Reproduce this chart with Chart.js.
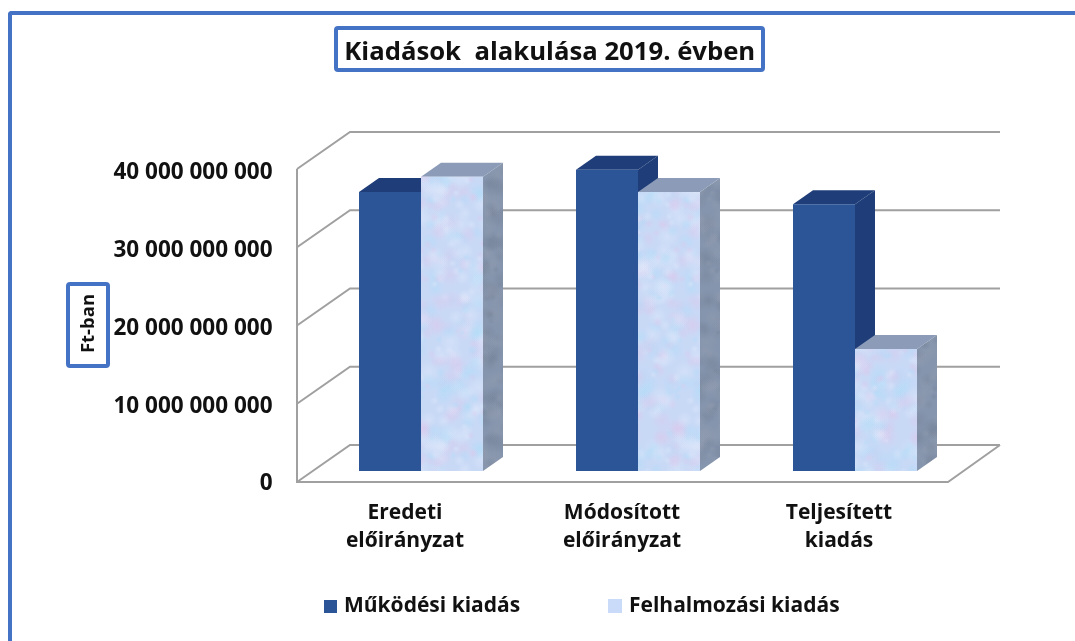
<!DOCTYPE html>
<html lang="hu">
<head>
<meta charset="utf-8">
<title>Kiadások alakulása 2019. évben</title>
<script src="https://cdn.jsdelivr.net/npm/chart.js"></script>
<style>
    html, body { margin: 0; padding: 0; width: 1075px; height: 641px; overflow: hidden; background: #fff; }
    #frame { position: absolute; left: 8px; top: 11px; width: 1100px; height: 700px; box-sizing: border-box;
             border-left: 4.5px solid #4472C4; border-top: 4.5px solid #4472C4; border-top-left-radius: 4px; }
    #monthlyChart { position: absolute; left: 0; top: 0; }
</style>
</head>
<body>
<div id="frame"></div>
<canvas id="monthlyChart" width="1075" height="641"></canvas>
<script>
    // -----------------------------
    // Data
    // -----------------------------
    const categories = [["Eredeti", "előirányzat"], ["Módosított", "előirányzat"], ["Teljesített", "kiadás"]];
    const operating = [35650000000, 38500000000, 34100000000];
    const accumulation = [37600000000, 35650000000, 15600000000];
    const seriesNames = ["Működési kiadás", "Felhalmozási kiadás"];
    const tickValues = [0, 10000000000, 20000000000, 30000000000, 40000000000];
    const tickLabels = ["0", "10 000 000 000", "20 000 000 000", "30 000 000 000", "40 000 000 000"];
    const chartTitle = "Kiadások  alakulása 2019. évben";
    const axisTitle = "Ft-ban";

    // -----------------------------
    // Look
    // -----------------------------
    const FONT = "'Open Sans', sans-serif";
    const FRAME = "#4472C4";
    const GRID = "#A0A0A0";
    const BLUE = "#2B5597";
    const BLUE_DARK = "#1F3D78";
    const DEPTH_X = 20;      // bar depth
    const DEPTH_Y = 14;
    const WALL_X = 53;       // depth of the floor
    const WALL_OVER = 15.5;  // front corner sits this far left of the plot

    // fixed scatter for the texture tile, looks random but is the same each run
    function scatter(n) {
        const v = Math.sin(n * 12.9898) * 43758.5453;
        return v - Math.floor(v);
    }

    // speckled bluish/lilac tile, like the picture fill of the second series
    function makeTexture(dark) {
        const size = 256;
        const c = document.createElement("canvas");
        c.width = c.height = size;
        const g = c.getContext("2d");
        g.fillStyle = dark ? "#8595AD" : "#C8D9F6";
        g.fillRect(0, 0, size, size);
        for (let i = 0; i < 900; i++) {
            const x = scatter(i + 1) * size;
            const y = scatter(i + 1000) * size;
            const r = 3 + scatter(i + 2000) * 9;
            const pick = scatter(i + 3000);
            const light = pick < 0.33 ? "220,200,236" : pick < 0.66 ? "176,220,248" : "224,232,250";
            const col = dark ? (pick < 0.5 ? "118,132,154" : "146,156,176") : light;
            for (const dx of [0, -size, size]) {
                for (const dy of [0, -size, size]) {
                    const rg = g.createRadialGradient(x + dx, y + dy, 0, x + dx, y + dy, r);
                    rg.addColorStop(0, "rgba(" + col + ",0.45)");
                    rg.addColorStop(1, "rgba(" + col + ",0)");
                    g.fillStyle = rg;
                    g.fillRect(x + dx - r, y + dy - r, r * 2, r * 2);
                }
            }
        }
        return g.createPattern(c, "repeat");
    }

    const ctx = document.getElementById("monthlyChart").getContext("2d");
    const frontFill = makeTexture(false);
    const sideFill = makeTexture(true);

    function poly(c, pts, fill) {
        c.fillStyle = fill;
        c.beginPath();
        pts.forEach((p, i) => i ? c.lineTo(p[0], p[1]) : c.moveTo(p[0], p[1]));
        c.closePath();
        c.fill();
    }

    function boxedFrame(c, x, y, w, h) {
        c.strokeStyle = FRAME;
        c.lineWidth = 4;
        c.beginPath();
        c.roundRect(x, y, w, h, 2);
        c.stroke();
    }

    // -----------------------------
    // 3D look: walls, floor, bar sides, boxed texts, legend
    // -----------------------------
    const walls = {
        id: "walls",
        afterLayout(chart) {
            // title is not centred on the plot in the reference
            chart.titleBlock.left += 68;
            chart.titleBlock.right += 68;
        },
        beforeDatasetsDraw(chart) {
            const c = chart.ctx;
            const area = chart.chartArea;
            const yF = chart.scales.yFront;
            const yB = chart.scales.yBack;
            const left = area.left - WALL_OVER;
            const back = left + WALL_X;
            const right = area.right + 36.5;
            c.save();
            c.strokeStyle = GRID;
            c.lineWidth = 2;
            tickValues.forEach((v) => {
                c.beginPath();
                c.moveTo(left, yF.getPixelForValue(v));
                c.lineTo(back, yB.getPixelForValue(v));
                c.lineTo(right, yB.getPixelForValue(v));
                c.stroke();
            });
            const y0 = yF.getPixelForValue(0);
            c.beginPath();
            c.moveTo(left, yF.getPixelForValue(tickValues[tickValues.length - 1]));
            c.lineTo(left, y0);
            c.lineTo(right - WALL_X + 1, y0);
            c.lineTo(right, yB.getPixelForValue(0));
            c.stroke();

            // sides and tops of the columns, the fronts come from Chart.js
            chart.data.datasets.forEach((ds, i) => {
                const top = i === 0 ? BLUE_DARK : "#8C9CB8";
                const side = i === 0 ? BLUE_DARK : sideFill;
                chart.getDatasetMeta(i).data.forEach((bar) => {
                    const p = bar.getProps(["x", "y", "base", "width"], true);
                    const l = p.x - p.width / 2;
                    const r = p.x + p.width / 2;
                    poly(c, [[l, p.y], [l + DEPTH_X, p.y - DEPTH_Y], [r + DEPTH_X, p.y - DEPTH_Y], [r, p.y]], top);
                    poly(c, [[r, p.y], [r + DEPTH_X, p.y - DEPTH_Y], [r + DEPTH_X, p.base - DEPTH_Y], [r, p.base]], side);
                });
            });
            c.restore();
        },
        afterDraw(chart) {
            const c = chart.ctx;
            c.save();
            // box round the title
            boxedFrame(c, 336, 28, 427, 42);

            // axis title
            boxedFrame(c, 68, 284, 40, 82);
            c.translate(88.5, 323.5);
            c.rotate(-Math.PI / 2);
            c.fillStyle = "#111";
            c.font = "bold 18.5px " + FONT;
            c.textAlign = "center";
            c.textBaseline = "middle";
            c.fillText(axisTitle, 0, 0);
            c.restore();

            // legend
            c.save();
            c.font = "bold 21px " + FONT;
            c.textBaseline = "middle";
            c.fillStyle = BLUE;
            c.fillRect(324, 600, 13, 13);
            c.fillStyle = "#C9DBF9";
            c.fillRect(608, 599, 14, 14);
            c.fillStyle = "#111";
            c.fillText(seriesNames[0], 344, 606);
            c.fillText(seriesNames[1], 629, 606);
            c.restore();
        }
    };

    // -----------------------------
    // Chart
    // -----------------------------
    new Chart(ctx, {
        type: "bar",
        data: {
            labels: categories,
            datasets: [
                { label: seriesNames[0], data: operating, backgroundColor: BLUE, yAxisID: "yBar" },
                { label: seriesNames[1], data: accumulation, backgroundColor: frontFill, yAxisID: "yBar" }
            ]
        },
        options: {
            responsive: false,
            animation: false,
            layout: { padding: { left: 0, right: 111.5, top: 0, bottom: 84 } },
            datasets: { bar: { categoryPercentage: 0.5714, barPercentage: 1 } },
            plugins: {
                legend: { display: false },
                tooltip: { enabled: false },
                title: {
                    display: true,
                    text: chartTitle,
                    color: "#111",
                    font: { family: FONT, size: 25.7, weight: "bold" },
                    padding: { top: 37, bottom: 64.2 }
                }
            },
            scales: {
                x: {
                    grid: { display: false },
                    border: { display: false },
                    ticks: {
                        color: "#111",
                        font: { family: FONT, size: 21, weight: "bold", lineHeight: 1.33 },
                        padding: 9,
                        labelOffset: -16,
                        maxRotation: 0,
                        autoSkip: false
                    },
                    afterFit(scale) { scale.height = 75; }
                },
                // carries the tick labels, they sit a little lower than the gridlines
                y: {
                    position: "left",
                    min: 257000000,
                    max: 45270000000,
                    grid: { display: false },
                    border: { display: false },
                    afterBuildTicks(scale) { scale.ticks = tickValues.map((value) => ({ value })); },
                    afterFit(scale) { scale.width = 312.5; },
                    ticks: {
                        color: "#111",
                        padding: 32,
                        font: { family: FONT, size: 22.5, weight: "bold" },
                        callback: (v) => tickLabels[tickValues.indexOf(v)]
                    }
                },
                // front plane of the box
                yFront: { display: false, min: 0, max: 44730000000 },
                // plane the column fronts stand on
                yBar: { display: false, min: -1406000000, max: 43320000000 },
                // back wall
                yBack: { display: false, min: -4730000000, max: 40000000000 }
            }
        },
        plugins: [walls]
    });
</script>
</body>
</html>
